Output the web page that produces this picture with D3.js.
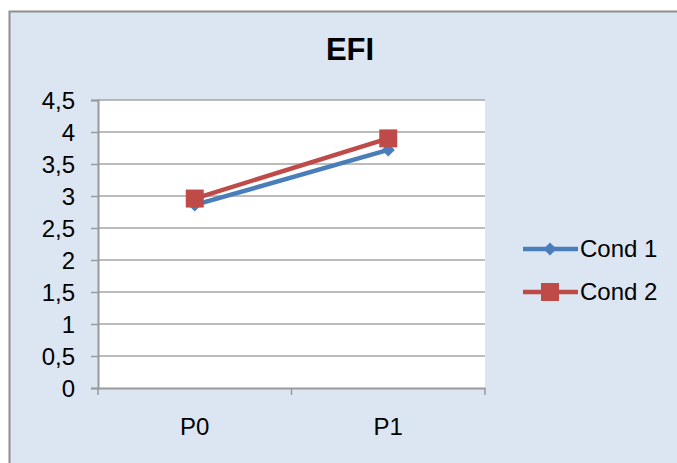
<!DOCTYPE html>
<html>
<head>
<meta charset="utf-8">
<script src="https://cdn.jsdelivr.net/npm/d3@7/dist/d3.min.js"></script>
<style>
  html, body { margin: 0; padding: 0; background: #ffffff; }
  svg { display: block; font-family: "Liberation Sans", Arial, sans-serif; }
</style>
</head>
<body>
<svg id="chart" width="677" height="463"></svg>
<script>
// Chart data
const categories = ["P0", "P1"];
const cond1 = [2.86, 3.72];
const cond2 = [2.96, 3.90];
const seriesNames = ["Cond 1", "Cond 2"];
const yTicks = [0, 0.5, 1, 1.5, 2, 2.5, 3, 3.5, 4, 4.5];
const title = "EFI";

const series = [
  { name: seriesNames[0], values: cond1, color: "#4a7ebb", marker: "diamond" },
  { name: seriesNames[1], values: cond2, color: "#be4b48", marker: "square" }
];

const svg = d3.select("#chart");
const W = 677, H = 463;

// Chart area background with frame
svg.append("rect")
  .attr("x", 9.5).attr("y", 11.5)
  .attr("width", W + 10).attr("height", H + 10)
  .attr("fill", "#dce6f2")
  .attr("stroke", "#8e8e8e")
  .attr("stroke-width", 2);

const plot = { left: 98, right: 485, top: 100, bottom: 388 };

const x = d3.scaleBand().domain(categories).range([plot.left, plot.right]).padding(0);
const y = d3.scaleLinear().domain([0, 4.5]).range([plot.bottom, plot.top]);

// Plot area
svg.append("rect")
  .attr("x", plot.left).attr("y", plot.top)
  .attr("width", plot.right - plot.left).attr("height", plot.bottom - plot.top)
  .attr("fill", "#ffffff");

// Horizontal gridlines
svg.append("g").selectAll("line").data(yTicks.filter(d => d > 0)).join("line")
  .attr("x1", plot.left).attr("x2", plot.right)
  .attr("y1", d => y(d)).attr("y2", d => y(d))
  .attr("stroke", "#a6a6a6").attr("stroke-width", 1.5);

// Y axis
const yAxis = svg.append("g")
  .attr("transform", `translate(${plot.left},0)`)
  .call(d3.axisLeft(y).tickValues(yTicks).tickSize(7).tickPadding(16)
    .tickFormat(d => String(d).replace(".", ",")));
yAxis.select(".domain").attr("stroke", "#9a9a9a").attr("stroke-width", 2);
yAxis.selectAll(".tick line").attr("stroke", "#9a9a9a").attr("stroke-width", 1.5);
yAxis.selectAll(".tick text")
  .attr("fill", "#000").style("font-size", "24px")
  .attr("dy", "0.35em");

// X axis: labels centred in bands, tick marks on band boundaries
const xAxis = svg.append("g")
  .attr("transform", `translate(0,${plot.bottom})`)
  .call(d3.axisBottom(x).tickSize(0).tickPadding(30));
xAxis.select(".domain").attr("stroke", "#9a9a9a").attr("stroke-width", 2);
xAxis.selectAll(".tick text").attr("fill", "#000").style("font-size", "24px");
const bounds = categories.map(c => x(c)).concat([x(categories[categories.length - 1]) + x.bandwidth()]);
xAxis.append("g").selectAll("line").data(bounds).join("line")
  .attr("x1", d => d).attr("x2", d => d)
  .attr("y1", 0).attr("y2", 7)
  .attr("stroke", "#9a9a9a").attr("stroke-width", 1.5);

const cx = c => x(c) + x.bandwidth() / 2;

function drawMarker(g, type, color, px, py) {
  if (type === "square") {
    g.append("rect")
      .attr("x", px - 9).attr("y", py - 9)
      .attr("width", 18).attr("height", 18)
      .attr("fill", color);
  } else {
    g.append("path")
      .attr("d", d3.symbol().type(d3.symbolDiamond2).size(110)())
      .attr("transform", `translate(${px},${py})`)
      .attr("fill", color);
  }
}

// Series lines and markers
const line = d3.line().x((d, i) => cx(categories[i])).y(d => y(d));
series.forEach(s => {
  const g = svg.append("g");
  g.append("path")
    .datum(s.values)
    .attr("d", line)
    .attr("fill", "none")
    .attr("stroke", s.color)
    .attr("stroke-width", 4.5);
  s.values.forEach((v, i) => drawMarker(g, s.marker, s.color, cx(categories[i]), y(v)));
});

// Title
svg.append("text")
  .attr("x", 350).attr("y", 60)
  .attr("text-anchor", "middle")
  .style("font-size", "31px").style("font-weight", "bold")
  .attr("fill", "#000")
  .text(title);

// Legend
const legY = [249, 292];
series.forEach((s, i) => {
  const g = svg.append("g");
  g.append("line")
    .attr("x1", 523).attr("x2", 578)
    .attr("y1", legY[i]).attr("y2", legY[i])
    .attr("stroke", s.color).attr("stroke-width", 4.5);
  drawMarker(g, s.marker, s.color, 550, legY[i]);
  g.append("text")
    .attr("x", 580).attr("y", legY[i])
    .attr("dy", "0.35em")
    .style("font-size", "24px")
    .attr("fill", "#000")
    .text(s.name);
});
</script>
</body>
</html>
